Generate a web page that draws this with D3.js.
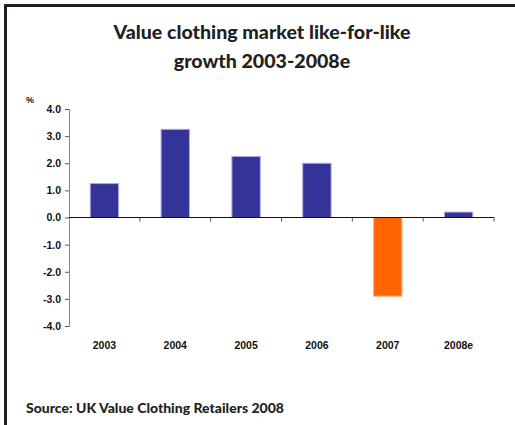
<!DOCTYPE html>
<html><head><meta charset="utf-8">
<script src="https://cdn.jsdelivr.net/npm/d3@7"></script>
<style>body{margin:0;background:#fff}svg{display:block}</style>
</head><body>
<script>
const categories = ["2003","2004","2005","2006","2007","2008e"];
const values = [1.25, 3.25, 2.25, 2.0, -2.9, 0.2];
const yTicks = [4,3,2,1,0,-1,-2,-3,-4];
const titleLines = ["Value clothing market like-for-like","growth 2003-2008e"];
const source = "Source: UK Value Clothing Retailers 2008";

const W=515,H=425;
const svg=d3.select("body").append("svg").attr("width",W).attr("height",H);
svg.append("rect").attr("width",W).attr("height",H).attr("fill","#fff");
// frame
svg.append("rect").attr("x",4).attr("y",4).attr("width",W-4).attr("height",3).attr("fill","#231f20");
svg.append("rect").attr("x",4).attr("y",4).attr("width",3).attr("height",H-4).attr("fill","#231f20");

const tf="Lato, 'Open Sans', sans-serif";
const af="'Liberation Sans', Arial, sans-serif";
svg.selectAll("text.title").data(titleLines).join("text")
  .attr("x",262).attr("y",(d,i)=>39+i*29).attr("text-anchor","middle")
  .attr("font-family",tf).attr("font-weight",900).attr("font-size",19.6).attr("fill","#231f20")
  .text(d=>d);

const x=d3.scaleBand().domain(categories).range([69,494]).paddingInner(0).paddingOuter(0);
const y=d3.scaleLinear().domain([-4,4]).range([326,109]);

// bars
const bw=x.bandwidth()*0.4;
svg.selectAll("rect.bar").data(values).join("rect")
  .attr("x",(d,i)=>x(categories[i])+x.bandwidth()/2-bw/2)
  .attr("width",bw)
  .attr("y",d=>y(Math.max(0,d)))
  .attr("height",d=>Math.abs(y(d)-y(0)))
  .attr("fill",d=>d<0?"#ff6600":"#333399")
  .attr("stroke",d=>d<0?"#ffb080":"#a9a9e0").attr("stroke-width",1);

const fmt=d=>d3.format(".1f")(d).replace("−","-");
// y axis
const ya=svg.append("g").attr("transform","translate(69,0)")
  .call(d3.axisLeft(y).tickValues(yTicks).tickSize(4).tickPadding(4).tickFormat(fmt));
ya.select(".domain").attr("stroke","#888");
ya.selectAll(".tick line").attr("stroke","#555");
ya.selectAll("text").attr("font-family",af).attr("font-weight","bold").attr("font-size",10.5).attr("fill","#111");

// zero line with category boundary ticks
const xa=svg.append("g").attr("transform",`translate(0,${y(0)})`)
  .call(d3.axisBottom(x).tickSize(0).tickFormat(""));
xa.select(".domain").attr("stroke","#111").attr("d",`M69,0H494`);
const bounds=categories.slice(1).map(c=>x(c)).concat([494]);
xa.selectAll("line.bt").data(bounds).join("line").attr("class","bt")
  .attr("x1",d=>d).attr("x2",d=>d).attr("y1",0).attr("y2",4).attr("stroke","#555");

// category labels
svg.selectAll("text.cat").data(categories).join("text")
  .attr("x",d=>x(d)+x.bandwidth()/2).attr("y",349).attr("text-anchor","middle")
  .attr("font-family",af).attr("font-weight","bold").attr("font-size",10.5).attr("fill","#111")
  .text(d=>d);

svg.append("text").attr("x",26).attr("y",103).text("%")
  .attr("font-family",af).attr("font-weight","bold").attr("font-size",9).attr("fill","#111");

svg.append("text").attr("x",26).attr("y",413).text(source)
  .attr("font-family",tf).attr("font-weight",900).attr("font-size",14).attr("fill","#231f20");
</script>
</body></html>
